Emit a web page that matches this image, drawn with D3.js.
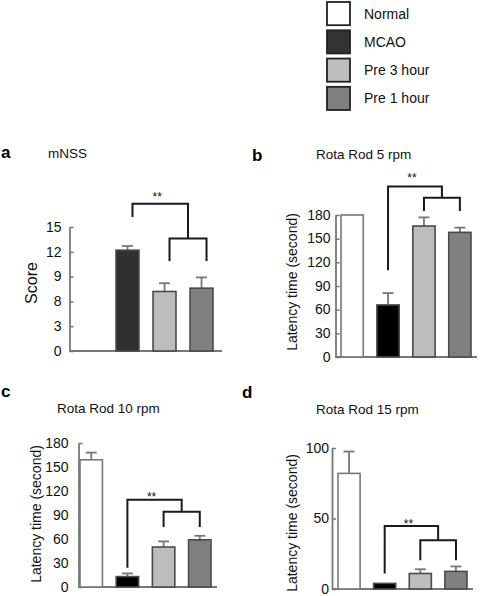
<!DOCTYPE html>
<html>
<head>
<meta charset="utf-8">
<script src="https://cdn.jsdelivr.net/npm/d3@7"></script>
<style>
  html, body { margin: 0; padding: 0; background: #fff; }
  svg { display: block; font-family: "Liberation Sans", Arial, Helvetica, sans-serif; }
</style>
</head>
<body>
<svg id="chart" width="480" height="596"></svg>
<script>
// ---------------- data ----------------
const groups = ["Normal", "MCAO", "Pre 3 hour", "Pre 1 hour"];

const mnssMean = [null, 12.2, 7.2, 7.6];
const mnssSem  = [null, 0.5, 1.0, 1.3];
const mnssTicks = [0, 3, 6, 9, 12, 15];
const mnssTickLabels = ["0", "3", "8", "9", "12", "15"];

const rr5Mean = [180, 66, 166, 158];
const rr5Sem  = [0, 15, 11, 6];

const rr10Mean = [159, 13, 50, 59];
const rr10Sem  = [9, 4, 7, 5];

const rr15Mean = [82, 4, 11, 12.5];
const rr15Sem  = [15.5, 0, 3, 3.5];

const rrTicks = [0, 30, 60, 90, 120, 150, 180];
const rr15Ticks = [0, 50, 100];

// ---------------- styles ----------------
const legendFills = ["#ffffff", "#333333", "#bdbdbd", "#808080"];

const panels = [
  { letter: "a", title: "mNSS", ylabel: "Score", mean: mnssMean, sem: mnssSem,
    ticks: mnssTicks, tickLabels: mnssTickLabels, max: 15,
    axisX: 69.5, x0: 79, x1: 213, xEnd: 222, base: 351, top: 227, tickPad: 8,
    letterPos: [1, 158], titlePos: [48, 158], ylabelPos: [37, 283], ylabelSize: 16,
    mcao: "#303030", dx: 5,
    br: { top: 17.8, leftLeg: 16.2, second: 13.6, legs: 10.9, stars: 18.2 } },
  { letter: "b", title: "Rota Rod 5 rpm", ylabel: "Latency time (second)", mean: rr5Mean, sem: rr5Sem,
    ticks: rrTicks, tickLabels: rrTicks.map(String), max: 180,
    axisX: 335.5, x0: 341, x1: 471, xEnd: 477, base: 357, top: 215, tickPad: 5,
    letterPos: [252, 161], titlePos: [316, 159], ylabelPos: [297, 282], ylabelSize: 14,
    mcao: "#000000", dx: 0,
    br: { top: 216, leftLeg: 110, second: 202, legs: 185, stars: 222 } },
  { letter: "c", title: "Rota Rod 10 rpm", ylabel: "Latency time (second)", mean: rr10Mean, sem: rr10Sem,
    ticks: rrTicks, tickLabels: rrTicks.map(String), max: 180,
    axisX: 78.5, x0: 80, x1: 211, xEnd: 217, base: 587, top: 443, tickPad: 10,
    letterPos: [1, 397], titlePos: [57, 413], ylabelPos: [41, 514], ylabelSize: 14,
    mcao: "#000000", dx: 0,
    br: { top: 109, leftLeg: 24, second: 94, legs: 75, stars: 107 } },
  { letter: "d", title: "Rota Rod 15 rpm", ylabel: "Latency time (second)", mean: rr15Mean, sem: rr15Sem,
    ticks: rr15Ticks, tickLabels: rr15Ticks.map(String), max: 100,
    axisX: 332, x0: 338, x1: 467, xEnd: 473, base: 589, top: 448, tickPad: 3,
    letterPos: [242, 398], titlePos: [316, 414], ylabelPos: [297, 523], ylabelSize: 14,
    mcao: "#000000", dx: 0,
    br: { top: 44.6, leftLeg: 11, second: 34.5, legs: 20.4, stars: 43 } }
];

const svg = d3.select("#chart");

// ---------------- legend ----------------
const legend = svg.append("g");
const ly = d3.scaleBand().domain(groups).range([2, 110]).paddingInner(0.18);
legend.selectAll("rect").data(groups).join("rect")
  .attr("x", 327).attr("y", d => ly(d))
  .attr("width", 23).attr("height", ly.bandwidth())
  .attr("fill", (d, i) => legendFills[i])
  .attr("stroke", "#222").attr("stroke-width", 1.8);
legend.selectAll("text").data(groups).join("text")
  .attr("x", 364).attr("y", d => ly(d) + ly.bandwidth() / 2 + 5)
  .attr("font-size", 14).attr("fill", "#111")
  .text(d => d);

// ---------------- panels ----------------
panels.forEach(p => {
  const g = svg.append("g");
  const x = d3.scaleBand().domain(groups).range([p.x0, p.x1]).paddingInner(0.38).paddingOuter(0);
  const y = d3.scaleLinear().domain([0, p.max]).range([p.base, p.top]);
  const fills = ["#ffffff", p.mcao, "#bdbdbd", "#808080"];

  // letter, title
  g.append("text").attr("x", p.letterPos[0]).attr("y", p.letterPos[1])
    .attr("font-size", 17).attr("font-weight", "bold").attr("fill", "#000").text(p.letter);
  g.append("text").attr("x", p.titlePos[0]).attr("y", p.titlePos[1])
    .attr("font-size", 13.5).attr("fill", "#111").text(p.title);

  // y label
  g.append("text")
    .attr("transform", `translate(${p.ylabelPos[0]},${p.ylabelPos[1]}) rotate(-90)`)
    .attr("text-anchor", "middle").attr("font-size", p.ylabelSize).attr("fill", "#111")
    .text(p.ylabel);

  // y axis
  const yAxis = d3.axisLeft(y)
    .tickValues(p.ticks)
    .tickFormat((d, i) => p.tickLabels[i])
    .tickSizeInner(-4).tickSizeOuter(0).tickPadding(p.tickPad);
  const ga = g.append("g").attr("transform", `translate(${p.axisX},0)`).call(yAxis);
  ga.select(".domain").attr("stroke", "#777").attr("stroke-width", 1.8);
  ga.selectAll(".tick line").attr("stroke", "#777").attr("stroke-width", 1.5);
  ga.selectAll(".tick text").attr("font-size", 14).attr("fill", "#111")
    .attr("font-family", "Liberation Sans, Arial, sans-serif").attr("dy", "0.3em");

  // x axis line
  g.append("line").attr("x1", p.axisX).attr("x2", p.xEnd)
    .attr("y1", y(0)).attr("y2", y(0))
    .attr("stroke", "#777").attr("stroke-width", 1.8);

  const rows = groups.map((k, i) => ({ k, i, m: p.mean[i], s: p.sem[i] })).filter(d => d.m != null);

  // error bars
  const eb = rows.filter(d => d.s > 0);
  g.selectAll(".err").data(eb).join("line").attr("class", "err")
    .attr("x1", d => x(d.k) + x.bandwidth() / 2).attr("x2", d => x(d.k) + x.bandwidth() / 2)
    .attr("y1", d => y(d.m)).attr("y2", d => y(d.m + d.s))
    .attr("stroke", "#777").attr("stroke-width", 1.8);
  g.selectAll(".cap").data(eb).join("line").attr("class", "cap")
    .attr("x1", d => x(d.k) + x.bandwidth() / 2 - 5.5).attr("x2", d => x(d.k) + x.bandwidth() / 2 + 5.5)
    .attr("y1", d => y(d.m + d.s)).attr("y2", d => y(d.m + d.s))
    .attr("stroke", "#777").attr("stroke-width", 1.8);

  // bars
  g.selectAll(".bar").data(rows).join("rect").attr("class", "bar")
    .attr("x", d => x(d.k)).attr("width", x.bandwidth())
    .attr("y", d => y(d.m)).attr("height", d => y(0) - y(d.m))
    .attr("fill", d => fills[d.i])
    .attr("stroke", d => d.i === 0 ? "#777" : "#4a4a4a").attr("stroke-width", 1.6);

  // significance brackets
  const c = k => x(k) + x.bandwidth() / 2 + p.dx;
  const sL = c("Pre 3 hour"), sR = c("Pre 1 hour"), sM = (sL + sR) / 2;
  const tL = c("MCAO");
  const path = d3.path();
  path.moveTo(tL, y(p.br.leftLeg)); path.lineTo(tL, y(p.br.top)); path.lineTo(sM, y(p.br.top)); path.lineTo(sM, y(p.br.second));
  path.moveTo(sL, y(p.br.legs)); path.lineTo(sL, y(p.br.second)); path.lineTo(sR, y(p.br.second)); path.lineTo(sR, y(p.br.legs));
  g.append("path").attr("d", path.toString()).attr("fill", "none")
    .attr("stroke", "#1a1a1a").attr("stroke-width", 2);
  g.append("text").attr("x", (tL + sM) / 2 - 3).attr("y", y(p.br.stars))
    .attr("text-anchor", "middle").attr("font-size", 12).attr("fill", "#111").text("**");
});
</script>
</body>
</html>
